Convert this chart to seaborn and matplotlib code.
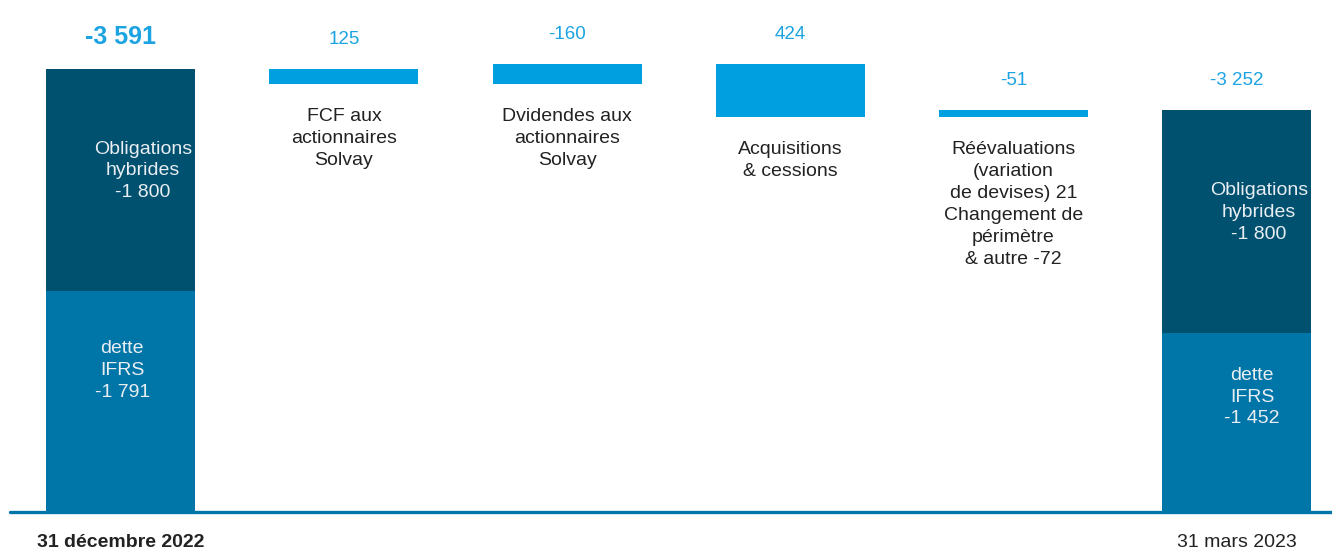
import pandas as pd
import matplotlib
matplotlib.use("Agg")
import matplotlib.pyplot as plt
import seaborn as sns

# Data (net debt, EUR m)
# -------------------------------
steps = ["31 décembre 2022", "FCF", "Dividendes", "Acquisitions", "Réévaluations", "31 mars 2023"]
tick_labels = ["31 décembre 2022", "", "", "", "", "31 mars 2023"]
changes = [-3591, 125, -160, 424, -51, -3252]
value_labels = ["-3 591", "125", "-160", "424", "-51", "-3 252"]
descriptions = [
    "",
    "FCF aux\nactionnaires\nSolvay",
    "Dvidendes aux\nactionnaires\nSolvay",
    "Acquisitions\n& cessions",
    "Réévaluations\n(variation\nde devises) 21\nChangement de\npérimètre\n& autre -72",
    "",
]
hybrid_bonds = [-1800, -1800]   # start, end
ifrs_debt = [-1791, -1452]      # start, end
hybrid_labels = ["Obligations\nhybrides\n-1 800", "Obligations\nhybrides\n-1 800"]
ifrs_labels = ["dette\nIFRS\n-1 791", "dette\nIFRS\n-1 452"]

# Colours
DARK = "#00506F"
MID = "#0075A8"
CYAN = "#009FDF"
LABEL = "#1CA3E2"
TEXT = "#222222"
INNER = "#E8EEF2"

# Waterfall geometry (debt magnitude plotted upwards)
# -------------------------------
level = -changes[0]
bottoms = [0.0]
heights = [float(-changes[0])]
for c in changes[1:-1]:
    new = level - c
    bottoms.append(min(level, new))
    heights.append(abs(c))
    level = new
bottoms.append(0.0)
heights.append(float(-changes[-1]))

df = pd.DataFrame({"step": steps, "height": heights, "bottom": bottoms})

sns.set_style("white")
plt.rcParams["font.family"] = ["Liberation Sans", "DejaVu Sans"]

fig = plt.figure(figsize=(13.32, 5.48), dpi=100)
ax = fig.add_axes([0, 36 / 548, 1, 512 / 548])

bar_w = 0.6676
sns.barplot(data=df, x="step", y="height", order=steps, bottom=df["bottom"].to_numpy(),
            color=CYAN, saturation=1, width=bar_w, errorbar=None, linewidth=0, ax=ax)
for i, p in enumerate(ax.patches):
    p.set_facecolor(DARK if i in (0, len(steps) - 1) else CYAN)

# IFRS debt segment at the bottom of the two totals
ifrs_df = pd.DataFrame({"step": [steps[0], steps[-1]], "value": [-v for v in ifrs_debt]})
sns.barplot(data=ifrs_df, x="step", y="value", order=steps, color=MID, saturation=1,
            width=bar_w, errorbar=None, linewidth=0, ax=ax)

ax.set_xlim(-0.541, 5.427)
ax.set_ylim(0, 4146)
for s in ax.spines.values():
    s.set_visible(False)
ax.set_yticks([])
ax.set_xlabel("")
ax.set_ylabel("")
ax.set_xticks(range(len(steps)))
ax.set_xticklabels(tick_labels, fontsize=14, color=TEXT)
ax.get_xticklabels()[0].set_fontweight("bold")
ax.tick_params(axis="x", length=0, pad=15.5)

ax.axhline(0, xmin=10 / 1332, xmax=1, color=MID, lw=2.4, clip_on=False, zorder=5)

# value labels above the bars
for i, lab in enumerate(value_labels):
    top = bottoms[i] + heights[i]
    bold = i == 0
    ax.annotate(lab, (i, top), xytext=(0, 18), textcoords="offset points",
                ha="center", va="baseline", color=LABEL,
                fontsize=18 if bold else 13.5, fontweight="bold" if bold else "normal")

# descriptions under the moving bars
for i, desc in enumerate(descriptions):
    if desc:
        ax.annotate(desc, (i, bottoms[i]), xytext=(0, -17.5), textcoords="offset points",
                    ha="center", va="top", color=TEXT, fontsize=14, linespacing=1.39)

# labels inside the total bars
for k, i in enumerate([0, len(steps) - 1]):
    ifrs = -ifrs_debt[k]
    hyb = -hybrid_bonds[k]
    ax.annotate(hybrid_labels[k], (i, ifrs + 0.54 * hyb), xytext=(16, 0),
                textcoords="offset points", ha="center", va="center",
                color=INNER, fontsize=14, linespacing=1.36)
    ax.annotate(ifrs_labels[k], (i, 0.64 * ifrs), xytext=(1 if k == 0 else 11, 0),
                textcoords="offset points", ha="center", va="center",
                color=INNER, fontsize=14, linespacing=1.36)

fig.savefig("out.png", dpi=100)
